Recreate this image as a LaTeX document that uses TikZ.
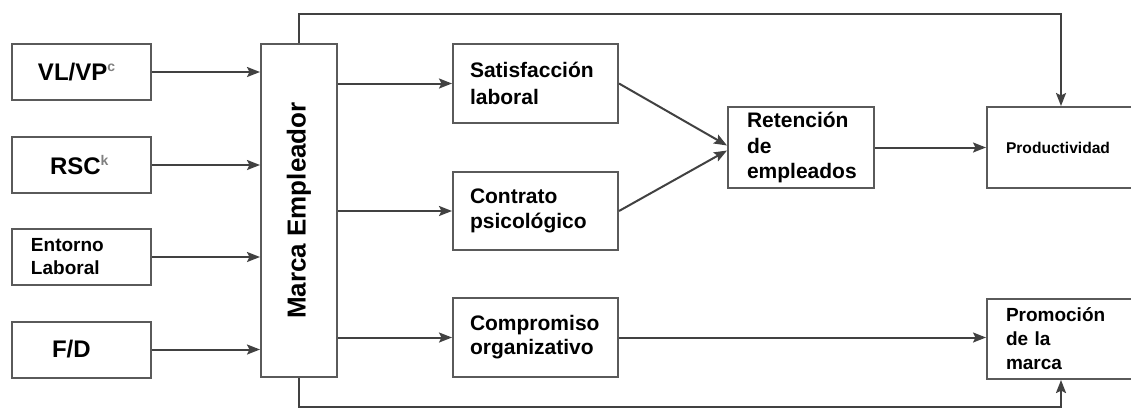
\documentclass[tikz,border=0pt]{standalone}
\usepackage{fontspec}
\usepackage{graphicx}
\setmainfont{Liberation Sans}
\usetikzlibrary{arrows.meta}
\definecolor{linegray}{RGB}{65,65,65}
\definecolor{boxgray}{RGB}{90,90,90}

\begin{document}
\begin{tikzpicture}[x=0.5pt,y=-0.5pt,
  box/.style={draw=boxgray,line width=1pt,align=left,inner ysep=0pt},
  arr/.style={draw=linegray,line width=1pt,-{Stealth[length=6.5pt,width=5pt,inset=1.2pt]}}]
\clip (0,0) rectangle (1131,408);
% drivers
\node[box,minimum height=28pt,inner xsep=13pt,text width=43.5pt,font=\bfseries\fontsize{12}{14}\selectfont] (vl) at (81.5,72) {VL/VP\textsuperscript{\color{gray}\scriptsize c}};
\node[box,minimum height=28pt,inner xsep=19pt,text width=31.5pt,font=\bfseries\fontsize{12}{14}\selectfont] (rsc) at (81.5,165) {RSC\textsuperscript{\color{gray}\scriptsize k}};
\node[box,minimum height=28pt,inner xsep=9.5pt,text width=50.5pt,font=\bfseries\fontsize{9.5}{11.5}\selectfont] (ent) at (81.5,257) {Entorno\\Laboral};
\node[box,minimum height=28pt,inner xsep=20pt,text width=29.5pt,font=\bfseries\fontsize{12}{14}\selectfont] (fd) at (81.5,349.5) {F/D};
% brand
\node[box,minimum width=38pt,minimum height=166.5pt,font=\bfseries\fontsize{13}{15}\selectfont] (me) at (299,210.5) {\rotatebox{90}{Marca Empleador}};
% outcomes
\node[box,minimum height=39.5pt,inner xsep=8.5pt,text width=65.5pt,font=\bfseries\fontsize{10.5}{13.5}\selectfont] (sat) at (535.5,83.5) {Satisfacción\\laboral};
\node[box,minimum height=39pt,inner xsep=8.5pt,text width=65.5pt,font=\bfseries\fontsize{10.5}{12.5}\selectfont] (con) at (535.5,211) {Contrato\\psicológico};
\node[box,minimum height=39.5pt,inner xsep=8.5pt,text width=65.5pt,font=\bfseries\fontsize{10.5}{12}\selectfont] (com) at (535.5,337.5) {Compromiso\\organizativo};
\node[box,minimum height=40.5pt,inner xsep=9.5pt,text width=54pt,font=\bfseries\fontsize{10.5}{12.75}\selectfont] (ret) at (801,147.5) {Retención\\de\\empleados};
\node[box,minimum height=40.5pt,inner xsep=9.5pt,text width=67.5pt,font=\bfseries\fontsize{7.8}{9}\selectfont] (prod) at (1073.5,147.5) {Productividad};
\node[box,minimum height=40pt,inner xsep=9.5pt,text width=67.5pt,font=\bfseries\fontsize{9.5}{12}\selectfont] (promo) at (1073.5,339) {Promoción\\de la\\marca};
% links
\draw[arr] (vl) -- (vl -| me.west);
\draw[arr] (rsc) -- (rsc -| me.west);
\draw[arr] (ent) -- (ent -| me.west);
\draw[arr] (fd) -- (fd -| me.west);
\draw[arr] (sat -| me.east) -- (sat);
\draw[arr] (con -| me.east) -- (con);
\draw[arr] (com -| me.east) -- (com);
\draw[arr] (sat.east) -- ([yshift=1pt]ret.west);
\draw[arr] (con.east) -- ([yshift=-1.5pt]ret.west);
\draw[arr] (ret) -- (prod);
\draw[arr] (com) -- (com -| promo.west);
\coordinate (top) at (1061,14);
\coordinate (bot) at (1061,406.5);
\draw[arr] (me.north) |- (top) -- (top |- prod.north);
\draw[arr] (me.south) |- (bot) -- (bot |- promo.south);
\end{tikzpicture}
\end{document}
